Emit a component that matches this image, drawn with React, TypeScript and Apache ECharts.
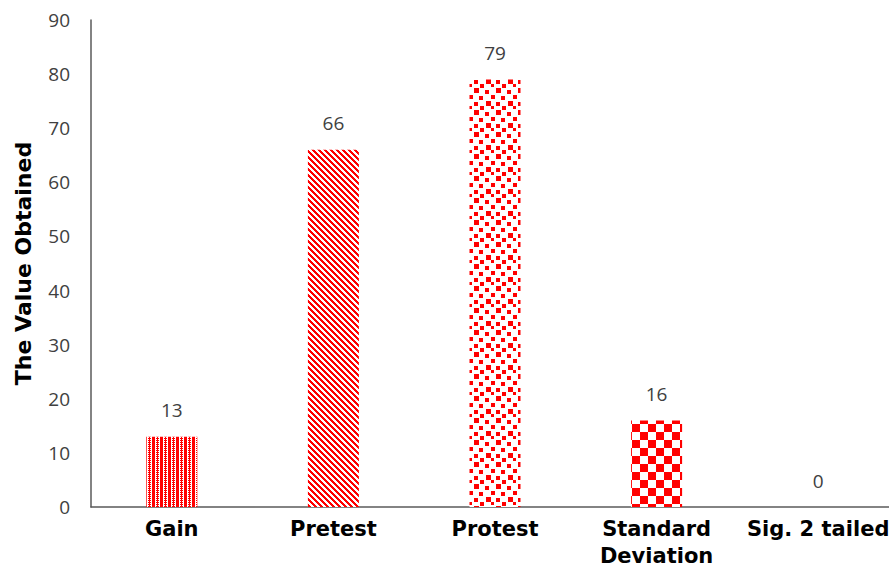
import React, { useEffect, useRef } from "react";
import * as echarts from "echarts";

const categories = ["Gain", "Pretest", "Protest", "Standard\nDeviation", "Sig. 2 tailed"];
const values = [13, 66, 79, 16, 0];
const yTicks = [0, 10, 20, 30, 40, 50, 60, 70, 80, 90];

const RED = "#ff0000";

function mk(w: number, h: number, draw: (c: CanvasRenderingContext2D) => void) {
  const cv = document.createElement("canvas");
  cv.width = w;
  cv.height = h;
  const c = cv.getContext("2d")!;
  c.fillStyle = "#ffffff";
  c.fillRect(0, 0, w, h);
  c.fillStyle = RED;
  draw(c);
  return cv;
}

function patterns() {
  const gain = mk(8, 4, (c) => {
    c.fillRect(0, 0, 3, 4);
    c.fillRect(4, 0, 3, 1);
    c.fillRect(4, 2, 3, 1);
    c.fillRect(5, 0, 1, 4);
  });
  const pre = mk(6, 6, (c) => {
    for (let y = 0; y < 6; y++) {
      for (let k = 0; k < 3; k++) {
        c.fillRect((y + k) % 6, y, 1, 1);
      }
    }
  });
  const pro = mk(22, 22, (c) => {
    const sq = [
      [1, 2, 4], [12, 0, 5], [7, 7, 4], [17, 8, 4], [2, 13, 5], [12, 14, 4], [7, 18, 3], [18, 18, 4],
    ];
    sq.forEach(([x, y, s]) => c.fillRect(x, y, s, s));
  });
  const std = mk(16, 16, (c) => {
    c.fillRect(0, 0, 8, 8);
    c.fillRect(8, 8, 8, 8);
  });
  return [gain, pre, pro, std, std];
}

export default function App() {
  const ref = useRef<HTMLDivElement>(null);
  useEffect(() => {
    const chart = echarts.init(ref.current!, undefined, { renderer: "svg" });
    const pats = patterns();
    chart.setOption({
      animation: false,
      grid: { left: 91, top: 20, width: 808, bottom: 61, outerBoundsMode: "none", containLabel: false },
      xAxis: {
        type: "category",
        data: categories,
        axisLine: { lineStyle: { color: "#5a5a5a", width: 1.5 } },
        axisTick: { show: false },
        axisLabel: {
          color: "#000",
          fontFamily: "DejaVu Sans",
          fontWeight: "bold",
          fontSize: 21,
          lineHeight: 27,
          margin: 8,
          interval: 0,
        },
      },
      yAxis: {
        type: "value",
        min: 0,
        max: 90,
        interval: 10,
        name: "The Value Obtained",
        nameLocation: "middle",
        nameGap: 57,
        nameTextStyle: {
          color: "#000",
          fontFamily: "DejaVu Sans",
          fontWeight: "bold",
          fontSize: 22,
        },
        splitLine: { show: false },
        axisLine: { show: true, lineStyle: { color: "#5a5a5a", width: 1.5 } },
        axisTick: { show: false },
        axisLabel: {
          color: "#404040",
          fontFamily: "Open Sans",
          fontSize: 19,
          margin: 21,
          formatter: (v: number) => (yTicks.includes(v) ? String(v) : ""),
        },
      },
      series: [
        {
          type: "bar",
          barWidth: 51,
          data: values.map((v, i) => ({
            value: v,
            itemStyle: { color: { image: pats[i], repeat: "repeat" } },
          })),
          label: {
            show: true,
            position: "top",
            distance: 17,
            color: "#404040",
            fontFamily: "Open Sans",
            fontSize: 19,
          },
        },
      ],
    });
    return () => chart.dispose();
  }, []);
  return <div ref={ref} style={{ width: 889, height: 568, position: "absolute", left: 0, top: 0 }} />;
}
